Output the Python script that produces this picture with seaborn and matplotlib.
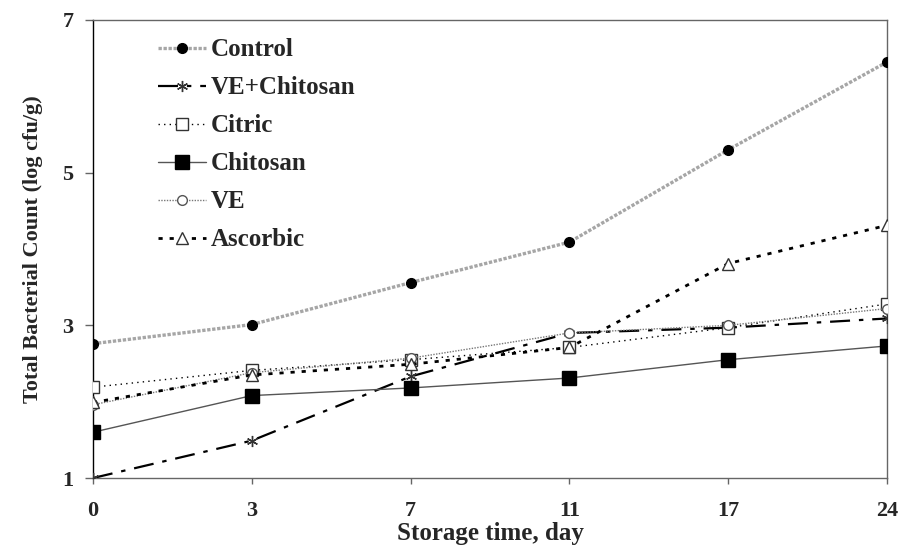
import matplotlib
matplotlib.use("Agg")
import matplotlib.pyplot as plt
from matplotlib.font_manager import FontProperties
import seaborn as sns
import pandas as pd

# Storage days (plotted at evenly spaced positions)
days = ["0", "3", "7", "11", "17", "24"]

control = [2.76, 3.01, 3.56, 4.09, 5.30, 6.45]
ve_chitosan = [1.00, 1.49, 2.33, 2.90, 2.97, 3.09]
citric = [2.19, 2.41, 2.55, 2.71, 2.97, 3.28]
chitosan = [1.60, 2.08, 2.18, 2.31, 2.55, 2.73]
ve = [1.96, 2.38, 2.57, 2.90, 3.00, 3.22]
ascorbic = [1.99, 2.35, 2.49, 2.71, 3.81, 4.31]

treatments = ["Control", "VE+Chitosan", "Citric", "Chitosan", "VE", "Ascorbic"]
series = [control, ve_chitosan, citric, chitosan, ve, ascorbic]

rows = []
for name, vals in zip(treatments, series):
    for i, (d, v) in enumerate(zip(days, vals)):
        rows.append({"treatment": name, "pos": i, "day": d, "count": v})
df = pd.DataFrame(rows)

sns.set_theme(style="white")
plt.rcParams["font.family"] = ["Liberation Serif", "DejaVu Serif"]
plt.rcParams["font.weight"] = "bold"

styles = {
    "Control": dict(color="#a6a6a6", lw=2.4, dashes=(1, 0.5), marker="o",
                    ms=7, mfc="black", mec="black"),
    "VE+Chitosan": dict(color="black", lw=1.6, dashes=(9, 4, 2, 4), marker=(6, 2, 0),
                        ms=8, mfc="none", mec="#333333"),
    "Citric": dict(color="black", lw=1.0, dashes=(1, 3), marker="s",
                   ms=8, mfc="white", mec="#333333"),
    "Chitosan": dict(color="#555555", lw=1.0, dashes=None, marker="s",
                     ms=10, mfc="black", mec="black"),
    "VE": dict(color="#777777", lw=1.0, dashes=(1, 1), marker="o",
               ms=7, mfc="white", mec="#555555"),
    "Ascorbic": dict(color="black", lw=2.0, dashes=(1.5, 2.5), marker="^",
                     ms=8, mfc="white", mec="#333333"),
}

fig = plt.figure(figsize=(9.02, 5.46), dpi=100)
ax = fig.add_axes([0.1031, 0.1245, 0.8803, 0.8389])

handles = []
for name in treatments:
    st = styles[name]
    sub = df[df["treatment"] == name]
    sns.lineplot(data=sub, x="pos", y="count", ax=ax, color=st["color"],
                 linewidth=st["lw"], marker=st["marker"], markersize=st["ms"],
                 markerfacecolor=st["mfc"], markeredgecolor=st["mec"],
                 markeredgewidth=1.0, legend=False, zorder=3)
    line = ax.lines[-1]
    if st["dashes"] is not None:
        line.set_dashes(st["dashes"])
    handles.append(line)

ax.set_xlim(0, 5)
ax.set_ylim(1, 7)
ax.set_xticks(range(len(days)))
ax.set_xticklabels(days)
ax.set_yticks([1, 3, 5, 7])

for sp in ax.spines.values():
    sp.set_color("#666666")
    sp.set_linewidth(1.0)
ax.spines["left"].set_color("black")

ax.tick_params(axis="both", which="major", direction="out",
               width=1.0, color="#666666", labelsize=16)
ax.tick_params(axis="y", length=6, pad=8)
ax.tick_params(axis="x", length=4.5, pad=12)
ax.tick_params(left=True, bottom=True)
for lbl in ax.get_xticklabels() + ax.get_yticklabels():
    lbl.set_fontweight("bold")

ax.set_xlabel("Storage time, day", fontsize=18, fontweight="bold", labelpad=1)
ax.set_ylabel("Total Bacterial Count (log cfu/g)", fontsize=16,
              fontweight="bold", labelpad=14)

legend_font = FontProperties(family="Liberation Serif", weight="bold", size=18)
leg = ax.legend(handles, treatments, loc="upper left",
                bbox_to_anchor=(0.082, 0.96), frameon=False, prop=legend_font,
                borderpad=0, borderaxespad=0,
                handlelength=1.9, handletextpad=0.2, labelspacing=0.6)
for t in leg.get_texts():
    t.set_fontweight("bold")

fig.savefig("out.png", dpi=100)
